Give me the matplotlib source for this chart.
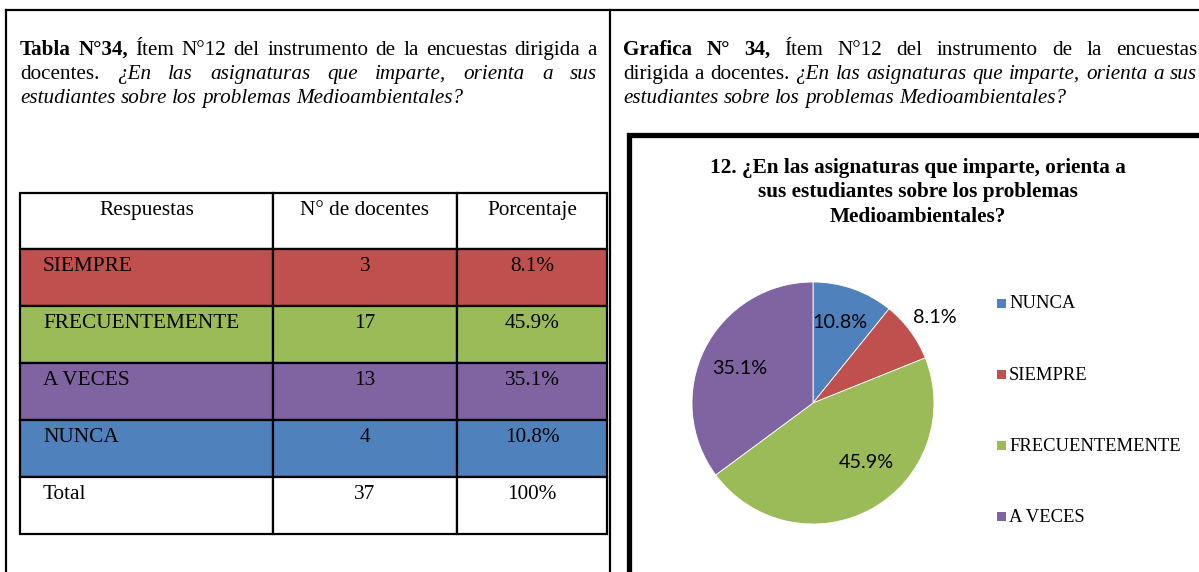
import numpy as np
import matplotlib
matplotlib.use("Agg")
import matplotlib.pyplot as plt
from matplotlib.patches import Rectangle

# data from the survey table
respuestas = ["SIEMPRE", "FRECUENTEMENTE", "A VECES", "NUNCA"]
docentes = [3, 17, 13, 4]
porcentajes = ["8.1%", "45.9%", "35.1%", "10.8%"]
colores = ["#C0504D", "#9BBB59", "#8064A2", "#4F81BD"]
encabezados = ["Respuestas", "N° de docentes", "Porcentaje"]
total = ["Total", "37", "100%"]

# pie order (clockwise from the top)
orden_pie = ["NUNCA", "SIEMPRE", "FRECUENTEMENTE", "A VECES"]

titulo = ["12. ¿En las asignaturas que imparte, orienta a",
          "sus estudiantes sobre los problemas",
          "Medioambientales?"]

W, H = 1199, 572
SERIF = "Liberation Serif"
SANS = "Lato"

fig = plt.figure(figsize=(W / 100, H / 100), dpi=100)
ax = fig.add_axes([0, 0, 1, 1])
ax.set_xlim(0, W)
ax.set_ylim(H, 0)
ax.axis("off")
renderer = fig.canvas.get_renderer()


def px_axes(x0, y0, x1, y1):
    # convert pixel box (top-left origin) to figure fraction
    return [x0 / W, 1 - y1 / H, (x1 - x0) / W, (y1 - y0) / H]


def write_line(parts, x0, x1, y, size, justified=True):
    words = []
    for txt, weight, style in parts:
        for w in txt.split():
            words.append((w, weight, style))
    arts, widths = [], []
    for w, weight, style in words:
        t = ax.text(0, y, w, fontsize=size, fontweight=weight, fontstyle=style,
                    family=SERIF, va="baseline", ha="left")
        widths.append(t.get_window_extent(renderer).width)
        arts.append(t)
    if justified and len(words) > 1:
        gap = (x1 - x0 - sum(widths)) / (len(words) - 1)
    else:
        gap = size * 0.25 * 100 / 72
    x = x0
    for t, wd in zip(arts, widths):
        t.set_x(x)
        x += wd + gap


# page frame lines
ax.plot([6, W], [10, 10], color="black", lw=1.6)
ax.plot([6, 6], [10, H], color="black", lw=1.6)
ax.plot([610, 610], [10, H], color="black", lw=1.6)

FS = 15.2
# left caption
write_line([("Tabla N°34,", "bold", "normal"),
            ("Ítem N°12 del instrumento de la encuestas dirigida a", "normal", "normal")],
           20, 597, 55, FS)
write_line([("docentes.", "normal", "normal"),
            ("¿En las asignaturas que imparte, orienta a sus", "normal", "italic")],
           20, 597, 79, FS)
write_line([("estudiantes sobre los problemas Medioambientales?", "normal", "italic")],
           20, 597, 103, FS, justified=False)

# right caption
write_line([("Grafica", "bold", "normal"), ("N° 34,", "bold", "normal"),
            ("Ítem N°12 del instrumento de la encuestas", "normal", "normal")],
           623, 1197, 55, FS)
write_line([("dirigida a docentes.", "normal", "normal"),
            ("¿En las asignaturas que imparte, orienta a sus", "normal", "italic")],
           623, 1197, 79, FS)
write_line([("estudiantes sobre los problemas Medioambientales?", "normal", "italic")],
           623, 1197, 103, FS, justified=False)

# table
col_x = [20, 273, 457, 607]
row_y = [193, 249, 306, 363, 420, 477, 534]
filas = [encabezados] + [[r, str(d), p] for r, d, p in zip(respuestas, docentes, porcentajes)] + [total]
fondos = ["white"] + colores + ["white"]
for i, fila in enumerate(filas):
    y0, y1 = row_y[i], row_y[i + 1]
    for j, val in enumerate(fila):
        x0, x1 = col_x[j], col_x[j + 1]
        ax.add_patch(Rectangle((x0, y0), x1 - x0, y1 - y0, facecolor=fondos[i],
                               edgecolor="black", lw=1.6))
        if j == 0 and i > 0:
            ax.text(x0 + 23, y0 + 22, val, fontsize=15.3, family=SERIF, ha="left",
                    va="baseline")
        else:
            ax.text((x0 + x1) / 2, y0 + 22, val, fontsize=15.3, family=SERIF,
                    ha="center", va="baseline")

# chart frame
ax.plot([628.5, 628.5, W + 5], [H + 5, 134.5, 134.5], color="black", lw=3.8,
        solid_joinstyle="miter")

for k, linea in enumerate(titulo):
    ax.text(918, 173 + k * 24.5, linea, fontsize=15.3, fontweight="bold",
            family=SERIF, ha="center", va="baseline")

# pie
valores = [docentes[respuestas.index(n)] for n in orden_pie]
col_pie = [colores[respuestas.index(n)] for n in orden_pie]
pax = fig.add_axes(px_axes(692, 282, 934, 524))
wedges, _ = pax.pie(valores, colors=col_pie, startangle=90, counterclock=False,
                    wedgeprops=dict(linewidth=0.6, edgecolor="white"))
pax.set_xlim(-1, 1)
pax.set_ylim(-1, 1)
pax.set_aspect("equal")

# label placement (distance from centre, angle shift in degrees)
dist = [0.70, 1.23, 0.66, 0.67]
shift = [1.0, -1.6, 12.7, 1.5]
for w, v, d, s in zip(wedges, valores, dist, shift):
    a = np.deg2rad((w.theta1 + w.theta2) / 2 + s)
    pax.text(d * np.cos(a), d * np.sin(a), f"{100 * v / sum(valores):.1f}%",
             fontsize=14.3, family=SANS, ha="center", va="center", clip_on=False)

# legend
for k, (n, c) in enumerate(zip(orden_pie, col_pie)):
    yy = 303 + k * 71.3
    ax.add_patch(Rectangle((997, yy - 4.5), 9, 9, facecolor=c, edgecolor="none"))
    ax.text(1009, yy + 1, n, fontsize=13.4, family=SERIF, ha="left", va="center")

fig.savefig("out.png", dpi=100)
